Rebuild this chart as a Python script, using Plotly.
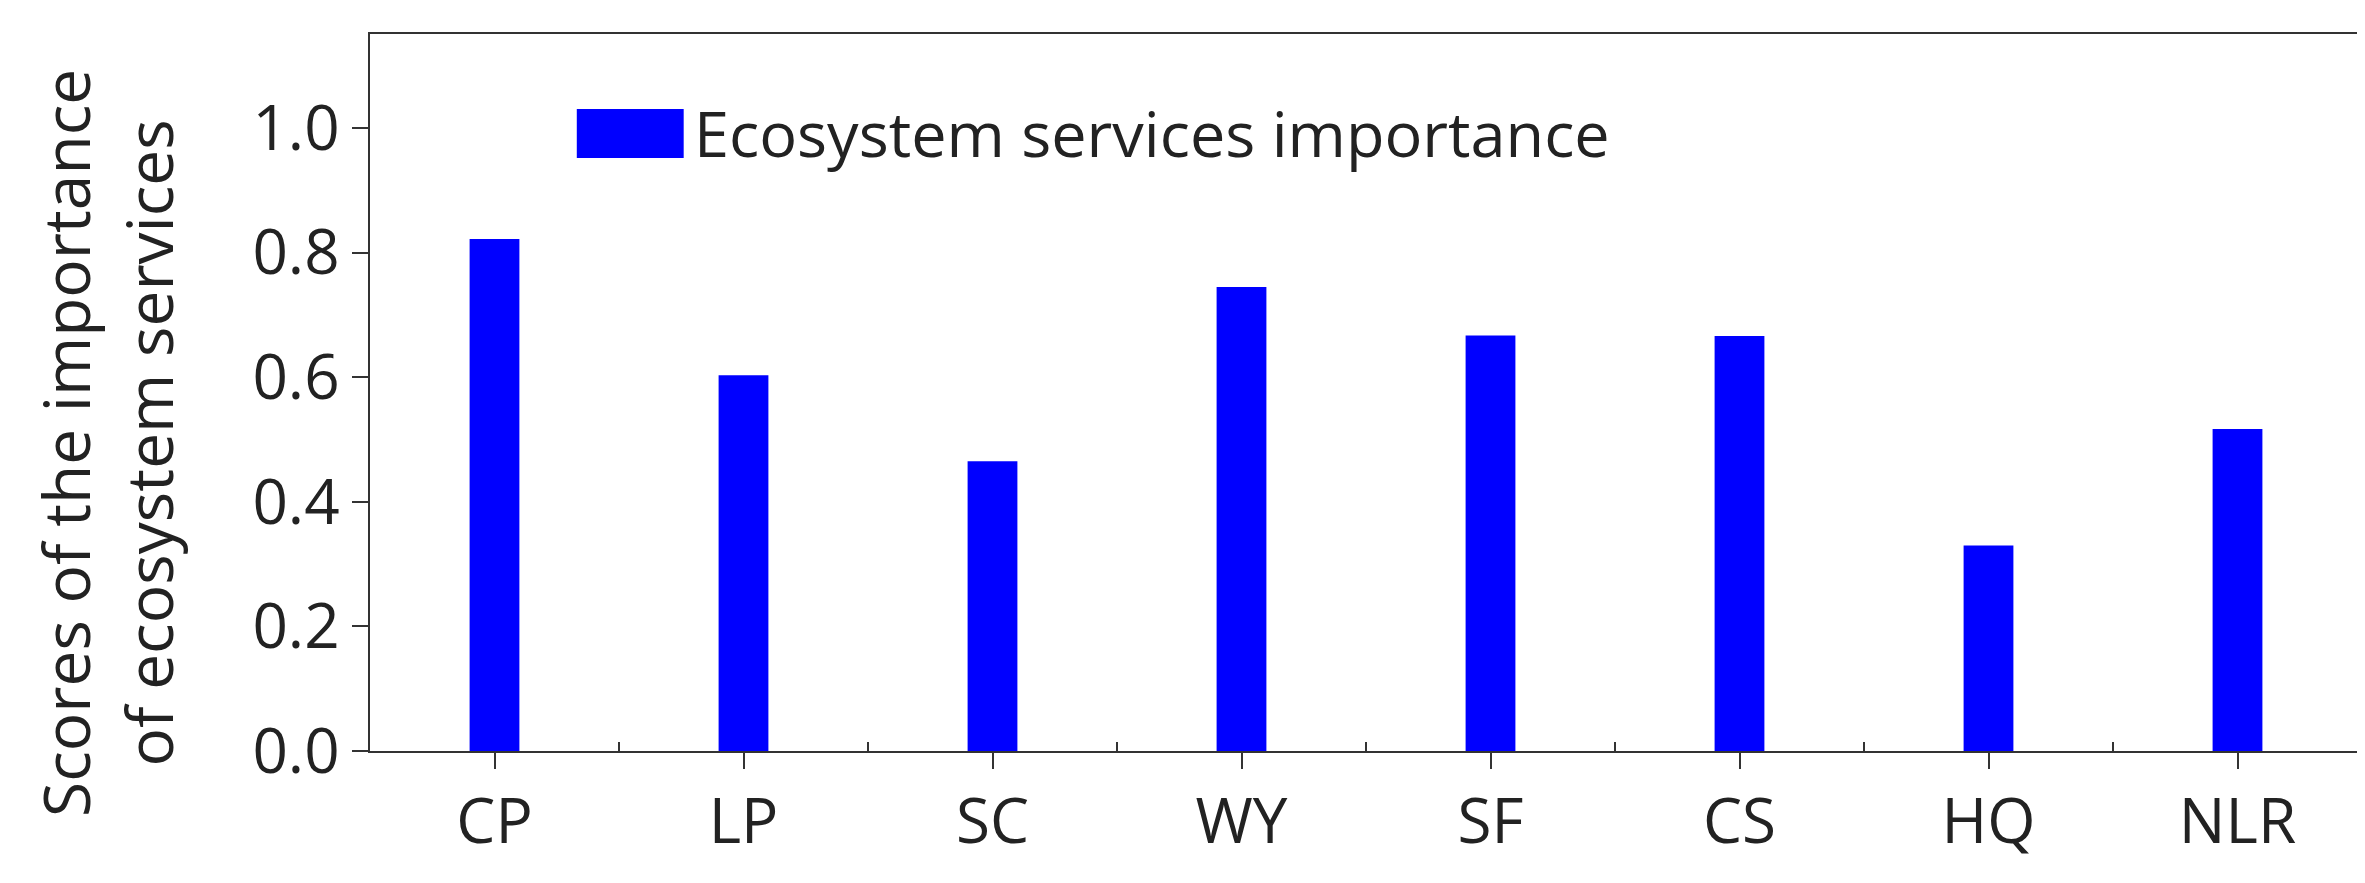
import plotly.graph_objects as go

categories = ["CP", "LP", "SC", "WY", "SF", "CS", "HQ", "NLR"]
scores = [0.822, 0.603, 0.465, 0.745, 0.667, 0.666, 0.330, 0.517]
y_ticks = [0.0, 0.2, 0.4, 0.6, 0.8, 1.0]
legend_label = "Ecosystem services importance"

font = "Open Sans"
fig = go.Figure()
fig.add_trace(go.Bar(x=categories, y=scores, width=0.2, marker=dict(color="#0000FF", line=dict(width=0)),
                     name=legend_label, showlegend=False))
# invisible trace for the minor (inside) ticks between categories
fig.add_trace(go.Scatter(x=[0, 7], y=[0, 0], xaxis="x2", mode="markers", marker=dict(opacity=0),
                         showlegend=False, hoverinfo="skip"))

fig.update_layout(
    width=2365, height=883,
    margin=dict(l=362, r=9, t=26, b=140),
    plot_bgcolor="white", paper_bgcolor="white",
    font=dict(family=font, color="#222", size=62),
    xaxis=dict(range=[-0.5, 7.5], showline=True, linecolor="#333", linewidth=2, mirror=True,
               ticks="outside", ticklen=16, tickwidth=2, tickcolor="#333",
               tickfont=dict(size=62), showgrid=False),
    xaxis2=dict(range=[-0.5, 7.5], overlaying="x", tickvals=[0.5, 1.5, 2.5, 3.5, 4.5, 5.5, 6.5],
                ticks="inside", ticklen=9, tickwidth=2, tickcolor="#333",
                showticklabels=False, showgrid=False, zeroline=False),
    yaxis=dict(range=[0, 1.151], tickvals=y_ticks, ticktext=[f"{v:.1f}" for v in y_ticks],
               showline=True, linecolor="#333", linewidth=2, mirror=True,
               ticks="outside", ticklen=16, tickwidth=2, tickcolor="#333",
               tickfont=dict(size=62), showgrid=False, zeroline=False),
    bargap=0.8,
)

# legend drawn as swatch + text
fig.add_shape(type="rect", xref="paper", yref="paper",
              x0=(569 - 362) / 1994, x1=(676 - 362) / 1994,
              y0=(743 - 150) / 717, y1=(743 - 101) / 717,
              fillcolor="#0000FF", line=dict(width=0))
fig.add_annotation(xref="paper", yref="paper", x=(684 - 362) / 1994, y=(743 - 124) / 717,
                   xanchor="left", yanchor="middle", showarrow=False,
                   text=legend_label, font=dict(size=63))
# y-axis title
fig.add_annotation(xref="paper", yref="paper", x=-(362 - 98) / 1994, y=0.43,
                   xanchor="center", yanchor="middle", showarrow=False, textangle=-90,
                   text="Scores of the importance<br>of ecosystem services", font=dict(size=64))

fig.write_html("out.html")
